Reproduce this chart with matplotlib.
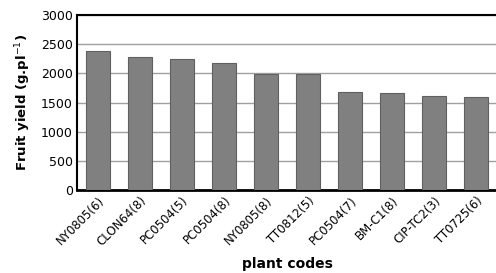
import matplotlib
matplotlib.use("Agg")
import matplotlib.pyplot as plt

codes = ["NY0805(6)", "CLON64(8)", "PC0504(5)", "PC0504(8)", "NY0805(8)",
         "TT0812(5)", "PC0504(7)", "BM-C1(8)", "CIP-TC2(3)", "TT0725(6)"]
yields = [2390, 2285, 2245, 2170, 1990, 1990, 1680, 1665, 1605, 1590]
yticks = [0, 500, 1000, 1500, 2000, 2500, 3000]

fig = plt.figure(figsize=(4.96, 2.73), dpi=100)
ax = fig.add_axes([0.155, 0.304, 0.848, 0.641])
x = range(len(codes))
ax.bar(x, yields, width=0.57, color="#808080", edgecolor="#606060", linewidth=0.8, zorder=3)
ax.set_xlim(-0.5, len(codes) - 0.5)
ax.set_ylim(0, 3000)
ax.set_yticks(yticks)
ax.set_yticklabels([str(v) for v in yticks], fontsize=9)
ax.set_xticks(list(x))
ax.set_xticklabels(codes, rotation=45, ha="right", rotation_mode="anchor", fontsize=8.5)
ax.tick_params(axis="both", length=0, pad=3)
ax.grid(axis="y", color="#a0a0a0", linewidth=1.0, zorder=0)
for s in ax.spines.values():
    s.set_linewidth(1.5)
    s.set_color("black")
ax.spines["bottom"].set_linewidth(2.0)
ax.set_ylabel("Fruit yield (g.pl$^{-1}$)", fontsize=9.5, fontweight="bold", labelpad=6)
ax.set_xlabel("plant codes", fontsize=10, fontweight="bold", labelpad=6)
fig.savefig("out.png", dpi=100)
